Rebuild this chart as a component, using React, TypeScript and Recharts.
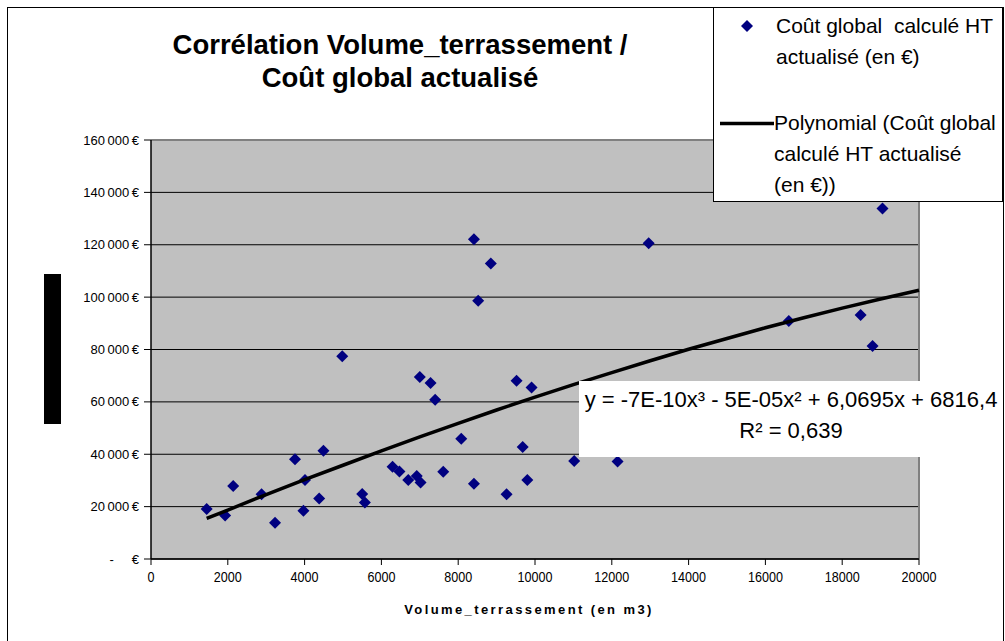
import React from 'react';
import {
  ComposedChart,
  Scatter,
  XAxis,
  YAxis,
  CartesianGrid,
  ReferenceLine
} from 'recharts';

const FONT = '"Liberation Sans", Arial, sans-serif';

// volume de terrassement (m3) / coût global HT actualisé (€)
const volumes = [
  1450, 1930, 2140, 2880, 3230, 3750, 3970, 4010, 4380, 4490,
  4980, 5500, 5570, 6290, 6470, 6700, 6920, 7020, 7000, 7280,
  7400, 7610, 8080, 8410, 8410, 8520, 8850, 9260, 9520, 9680,
  9800, 9910, 11020, 12150, 12960, 16610, 18480, 18790, 19050
];
const couts = [
  19100, 16600, 27900, 24700, 13800, 38100, 18400, 30200, 23100, 41300,
  77400, 24800, 21600, 35200, 33400, 30200, 31700, 29200, 69500, 67200,
  60800, 33300, 45900, 28700, 122100, 98600, 112800, 24700, 68100, 42800,
  30200, 65500, 37400, 37200, 120600, 90900, 93200, 81300, 133800
];

// courbe de tendance polynomiale
const trendVolumes = [
  1450, 2000, 3000, 4000, 5000, 6000, 7000, 8000, 9000, 10000,
  11000, 12000, 13000, 14000, 15000, 16000, 17000, 18000, 19000, 20000
];
const trendCouts = [
  15500, 18700, 24600, 30300, 35800, 41300, 46600, 51800, 56900, 61800,
  66600, 71200, 75700, 80100, 84200, 88300, 92100, 95800, 99300, 102600
];

const xTicks = [0, 2000, 4000, 6000, 8000, 10000, 12000, 14000, 16000, 18000, 20000];
const yTicks = [0, 20000, 40000, 60000, 80000, 100000, 120000, 140000, 160000];

const points = volumes.map((x, i) => ({ x, y: couts[i] }));
const trend = trendVolumes.map((x, i) => ({ x, y: trendCouts[i] }));

const fmtEuro = (v: number) =>
  v === 0 ? '-\u00A0\u00A0\u00A0\u00A0\u00A0€' : `${v / 1000}\u202F000\u202F€`;

const Diamond = (props: any) => {
  const { cx, cy } = props;
  const r = 6;
  return (
    <polygon
      points={`${cx},${cy - r} ${cx + r},${cy} ${cx},${cy + r} ${cx - r},${cy}`}
      fill="#000080"
    />
  );
};

const XTick = (props: any) => {
  const { x, y, payload } = props;
  return (
    <text
      x={x}
      y={y}
      dy={15}
      textAnchor="middle"
      fontSize={15}
      fontFamily={FONT}
      fill="#000"
      transform={`translate(${x} 0) scale(0.84 1) translate(${-x} 0)`}
    >
      {payload.value}
    </text>
  );
};

export default function App() {
  return (
    <div
      style={{
        position: 'absolute',
        left: 0,
        top: 0,
        width: 1005,
        height: 641,
        background: '#fff',
        overflow: 'hidden',
        fontFamily: FONT
      }}
    >
      <ComposedChart
        width={1005}
        height={641}
        data={points}
        margin={{ top: 140, right: 86, bottom: 0, left: 0 }}
      >
        <CartesianGrid vertical={false} fill="#C0C0C0" stroke="#000" />
        <XAxis
          type="number"
          dataKey="x"
          domain={[0, 20000]}
          ticks={xTicks}
          interval={0}
          height={82}
          tick={<XTick />}
          tickSize={6}
          stroke="#000"
          axisLine={{ stroke: '#000', strokeWidth: 1.5 }}
        />
        <YAxis
          type="number"
          dataKey="y"
          domain={[0, 160000]}
          ticks={yTicks}
          interval={0}
          width={151}
          tickFormatter={fmtEuro}
          tick={{ fontSize: 13, fill: '#000', fontFamily: FONT }}
          tickSize={7}
          tickMargin={5}
          stroke="#000"
          axisLine={{ stroke: '#000', strokeWidth: 1.5 }}
        />
        <ReferenceLine y={160000} stroke="#808080" strokeWidth={2} />
        <ReferenceLine x={20000} stroke="#808080" strokeWidth={2} />
        <Scatter
          name="Coût global  calculé HT actualisé (en €)"
          data={points}
          shape={(p: any) => <Diamond {...p} />}
          isAnimationActive={false}
        />
        <Scatter
          name="Polynomial (Coût global calculé HT actualisé (en €))"
          data={trend}
          line={{ stroke: '#000', strokeWidth: 3.5 }}
          shape={() => <g />}
          isAnimationActive={false}
        />
      </ComposedChart>

      {/* titre */}
      <div
        style={{
          position: 'absolute',
          left: 100,
          top: 28,
          width: 600,
          textAlign: 'center',
          fontSize: 27.5,
          fontWeight: 'bold',
          lineHeight: '33px'
        }}
      >
        Corrélation Volume_terrassement /<br />
        Coût global actualisé
      </div>

      {/* titre de l'axe Y masqué */}
      <div
        style={{ position: 'absolute', left: 44, top: 274, width: 17, height: 150, background: '#000' }}
      />

      {/* titre de l'axe X */}
      <div
        style={{
          position: 'absolute',
          left: 145,
          top: 602,
          width: 768,
          textAlign: 'center',
          fontSize: 13,
          fontWeight: 'bold',
          letterSpacing: 2.4,
          lineHeight: '16px'
        }}
      >
        Volume_terrassement (en m3)
      </div>

      {/* équation */}
      <div
        style={{
          position: 'absolute',
          left: 579,
          top: 381,
          width: 424,
          height: 76,
          background: '#fff',
          textAlign: 'center',
          fontSize: 22,
          lineHeight: '31px',
          paddingTop: 3,
          boxSizing: 'border-box',
          whiteSpace: 'nowrap'
        }}
      >
        y = -7E-10x³ - 5E-05x² + 6,0695x + 6816,4
        <br />
        R² = 0,639
      </div>

      {/* légende */}
      <div
        style={{
          position: 'absolute',
          left: 713,
          top: 7,
          width: 290,
          height: 195,
          background: '#fff',
          border: '1px solid #000',
          boxSizing: 'border-box',
          fontSize: 21,
          lineHeight: '31px'
        }}
      >
        <svg style={{ position: 'absolute', left: 0, top: 0 }} width={290} height={195}>
          <polygon points="33,12 39,18 33,24 27,18" fill="#000080" />
          <line x1={6} y1={115.5} x2={60} y2={115.5} stroke="#000" strokeWidth={3.5} />
        </svg>
        <div style={{ position: 'absolute', left: 62, top: 2, whiteSpace: 'pre' }}>
          {'Coût global  calculé HT\nactualisé (en €)'}
        </div>
        <div style={{ position: 'absolute', left: 60, top: 99, whiteSpace: 'pre' }}>
          {'Polynomial (Coût global\ncalculé HT actualisé\n(en €))'}
        </div>
      </div>

      {/* cadre du graphique */}
      <div
        style={{
          position: 'absolute',
          left: 7,
          top: 7,
          width: 997,
          height: 700,
          border: '1px solid #000',
          boxSizing: 'border-box',
          pointerEvents: 'none'
        }}
      />
    </div>
  );
}
